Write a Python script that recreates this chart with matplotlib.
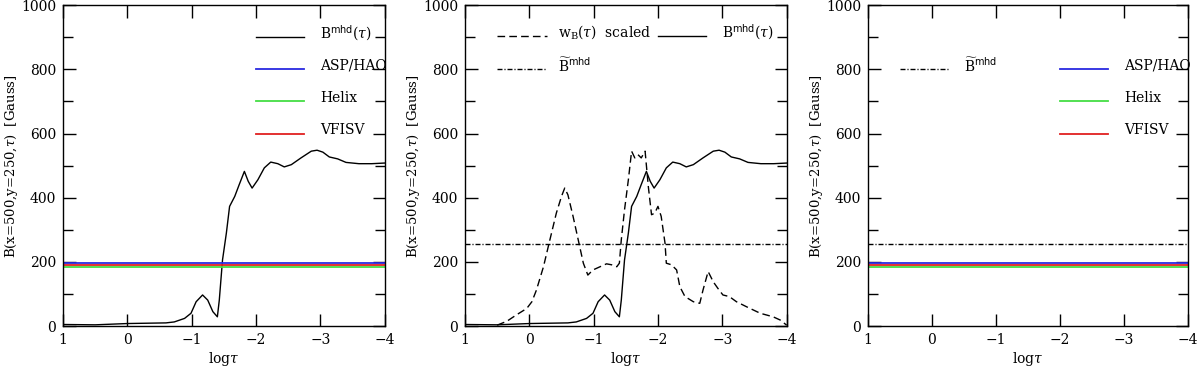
"""Magnetic field strength vs optical depth: MHD cube against three inversion codes."""

import matplotlib
matplotlib.use("Agg")
import matplotlib.pyplot as plt
from matplotlib.ticker import MultipleLocator
import numpy as np

plt.rcParams["font.family"] = ["DejaVu Serif"]
plt.rcParams["mathtext.fontset"] = "dejavuserif"
plt.rcParams["font.size"] = 10

# B^mhd(tau) along the line of sight
log_tau_mhd = [1.0, 0.5, 0.0, -0.3, -0.6, -0.73, -0.89, -0.99, -1.07, -1.17,
               -1.25, -1.33, -1.40, -1.43, -1.48, -1.54, -1.59, -1.67, -1.74,
               -1.82, -1.88, -1.94, -2.03, -2.13, -2.23, -2.34, -2.44, -2.55,
               -2.70, -2.86, -2.95, -3.04, -3.14, -3.27, -3.40, -3.60, -3.80,
               -4.0]
b_mhd = [5, 4, 8, 9, 10, 13, 24, 40, 76, 97,
         81, 45, 29, 81, 206, 290, 373, 404, 441,
         482, 451, 430, 456, 493, 511, 506, 496, 503,
         524, 545, 548, 542, 527, 521, 510, 506, 506,
         508]

# response function w_B(tau), scaled
log_tau_w = [0.5, 0.35, 0.2, 0.04, -0.04, -0.11, -0.22, -0.32, -0.42, -0.50,
             -0.55, -0.60, -0.68, -0.76, -0.84, -0.91, -0.99, -1.10, -1.20,
             -1.28, -1.36, -1.40, -1.43, -1.48, -1.54, -1.59, -1.64, -1.69,
             -1.74, -1.80, -1.85, -1.90, -1.95, -2.00, -2.05, -2.11, -2.13,
             -2.21, -2.29, -2.34, -2.42, -2.55, -2.65, -2.70, -2.78, -2.86,
             -2.93, -3.01, -3.11, -3.22, -3.38, -3.59, -3.79, -3.90, -4.0]
w_b = [3, 15, 35, 55, 76, 112, 185, 269, 352, 404,
       430, 409, 342, 269, 196, 159, 175, 185, 194,
       191, 185, 196, 269, 362, 456, 545, 524, 534,
       524, 545, 435, 347, 352, 373, 342, 258, 196,
       191, 175, 123, 92, 76, 71, 112, 170, 138,
       118, 97, 92, 76, 60, 40, 29, 19, 3]

# weighted mean of B^mhd and the inversion results (constant with depth)
b_tilde = 255
codes = ["ASP/HAO", "Helix", "VFISV"]
code_b = [197, 184, 190]
code_colors = ["#2a2ae0", "#44dd44", "#e02020"]

DASHED = (0, (5.5, 3.0))
DASHDOT = (0, (3.6, 1.4, 0.8, 1.4))
X_RANGE = (1.0, -4.0)

LBL_MHD = r"B$^{\mathsf{mhd}}(\tau)$"
LBL_TILDE = r"$\widetilde{\mathrm{B}}^{\mathsf{mhd}}$"
LBL_W = r"w$_{\mathrm{B}}(\tau)$  scaled"


def style_axes(ax):
    ax.set_xlim(*X_RANGE)
    ax.set_ylim(0, 1000)
    ax.xaxis.set_major_locator(MultipleLocator(1))
    ax.yaxis.set_major_locator(MultipleLocator(200))
    ax.yaxis.set_minor_locator(MultipleLocator(100))
    ax.tick_params(which="both", direction="in", top=True, right=True,
                   width=1.0, pad=5)
    ax.tick_params(which="major", length=9)
    ax.tick_params(which="minor", length=7)
    for spine in ax.spines.values():
        spine.set_linewidth(1.0)
    ax.set_xlabel(r"log$\tau$", labelpad=2)
    ax.set_ylabel(r"B(x=500,y=250,$\tau$)  [Gauss]", fontsize=9.5, labelpad=1)


def code_lines(ax):
    for b, color in zip(code_b, code_colors):
        ax.axhline(b, color=color, lw=1.3)


def key(ax, y, label, x0=-2.0, x1=-2.75, xt=-3.0, **line_kw):
    ax.plot([x0, x1], [y, y], **line_kw)
    ax.text(xt, y + 12, label, va="center", ha="left")


fig = plt.figure(figsize=(12, 3.66), dpi=100)
ax1 = fig.add_axes([0.0525, 0.109, 0.268, 0.877])
ax2 = fig.add_axes([0.3875, 0.109, 0.268, 0.877])
ax3 = fig.add_axes([0.7233, 0.109, 0.2667, 0.877])

# left panel: MHD profile and inversion codes
style_axes(ax1)
ax1.plot(log_tau_mhd, b_mhd, color="black", lw=1.0)
code_lines(ax1)
key(ax1, 900, LBL_MHD, color="black", lw=1.0)
for y, name, color in zip([800, 700, 600], codes, code_colors):
    key(ax1, y, name, color=color, lw=1.3)

# middle panel: profile, response function and its weighted average
style_axes(ax2)
ax2.plot(log_tau_mhd, b_mhd, color="black", lw=1.0)
ax2.plot(log_tau_w, w_b, color="black", lw=1.0, linestyle=DASHED)
ax2.axhline(b_tilde, color="black", lw=1.0, linestyle=DASHDOT)
key(ax2, 905, LBL_W, x0=0.5, x1=-0.27, xt=-0.45,
    color="black", lw=1.0, linestyle=DASHED)
key(ax2, 905, LBL_MHD, color="black", lw=1.0)
key(ax2, 800, LBL_TILDE, x0=0.5, x1=-0.27, xt=-0.45,
    color="black", lw=1.0, linestyle=DASHDOT)

# right panel: weighted average against inversion codes
style_axes(ax3)
ax3.axhline(b_tilde, color="black", lw=1.0, linestyle=DASHDOT)
code_lines(ax3)
key(ax3, 800, LBL_TILDE, x0=0.5, x1=-0.25, xt=-0.5,
    color="black", lw=1.0, linestyle=DASHDOT)
for y, name, color in zip([800, 700, 600], codes, code_colors):
    key(ax3, y, name, color=color, lw=1.3)

fig.savefig("out.png", dpi=100)
